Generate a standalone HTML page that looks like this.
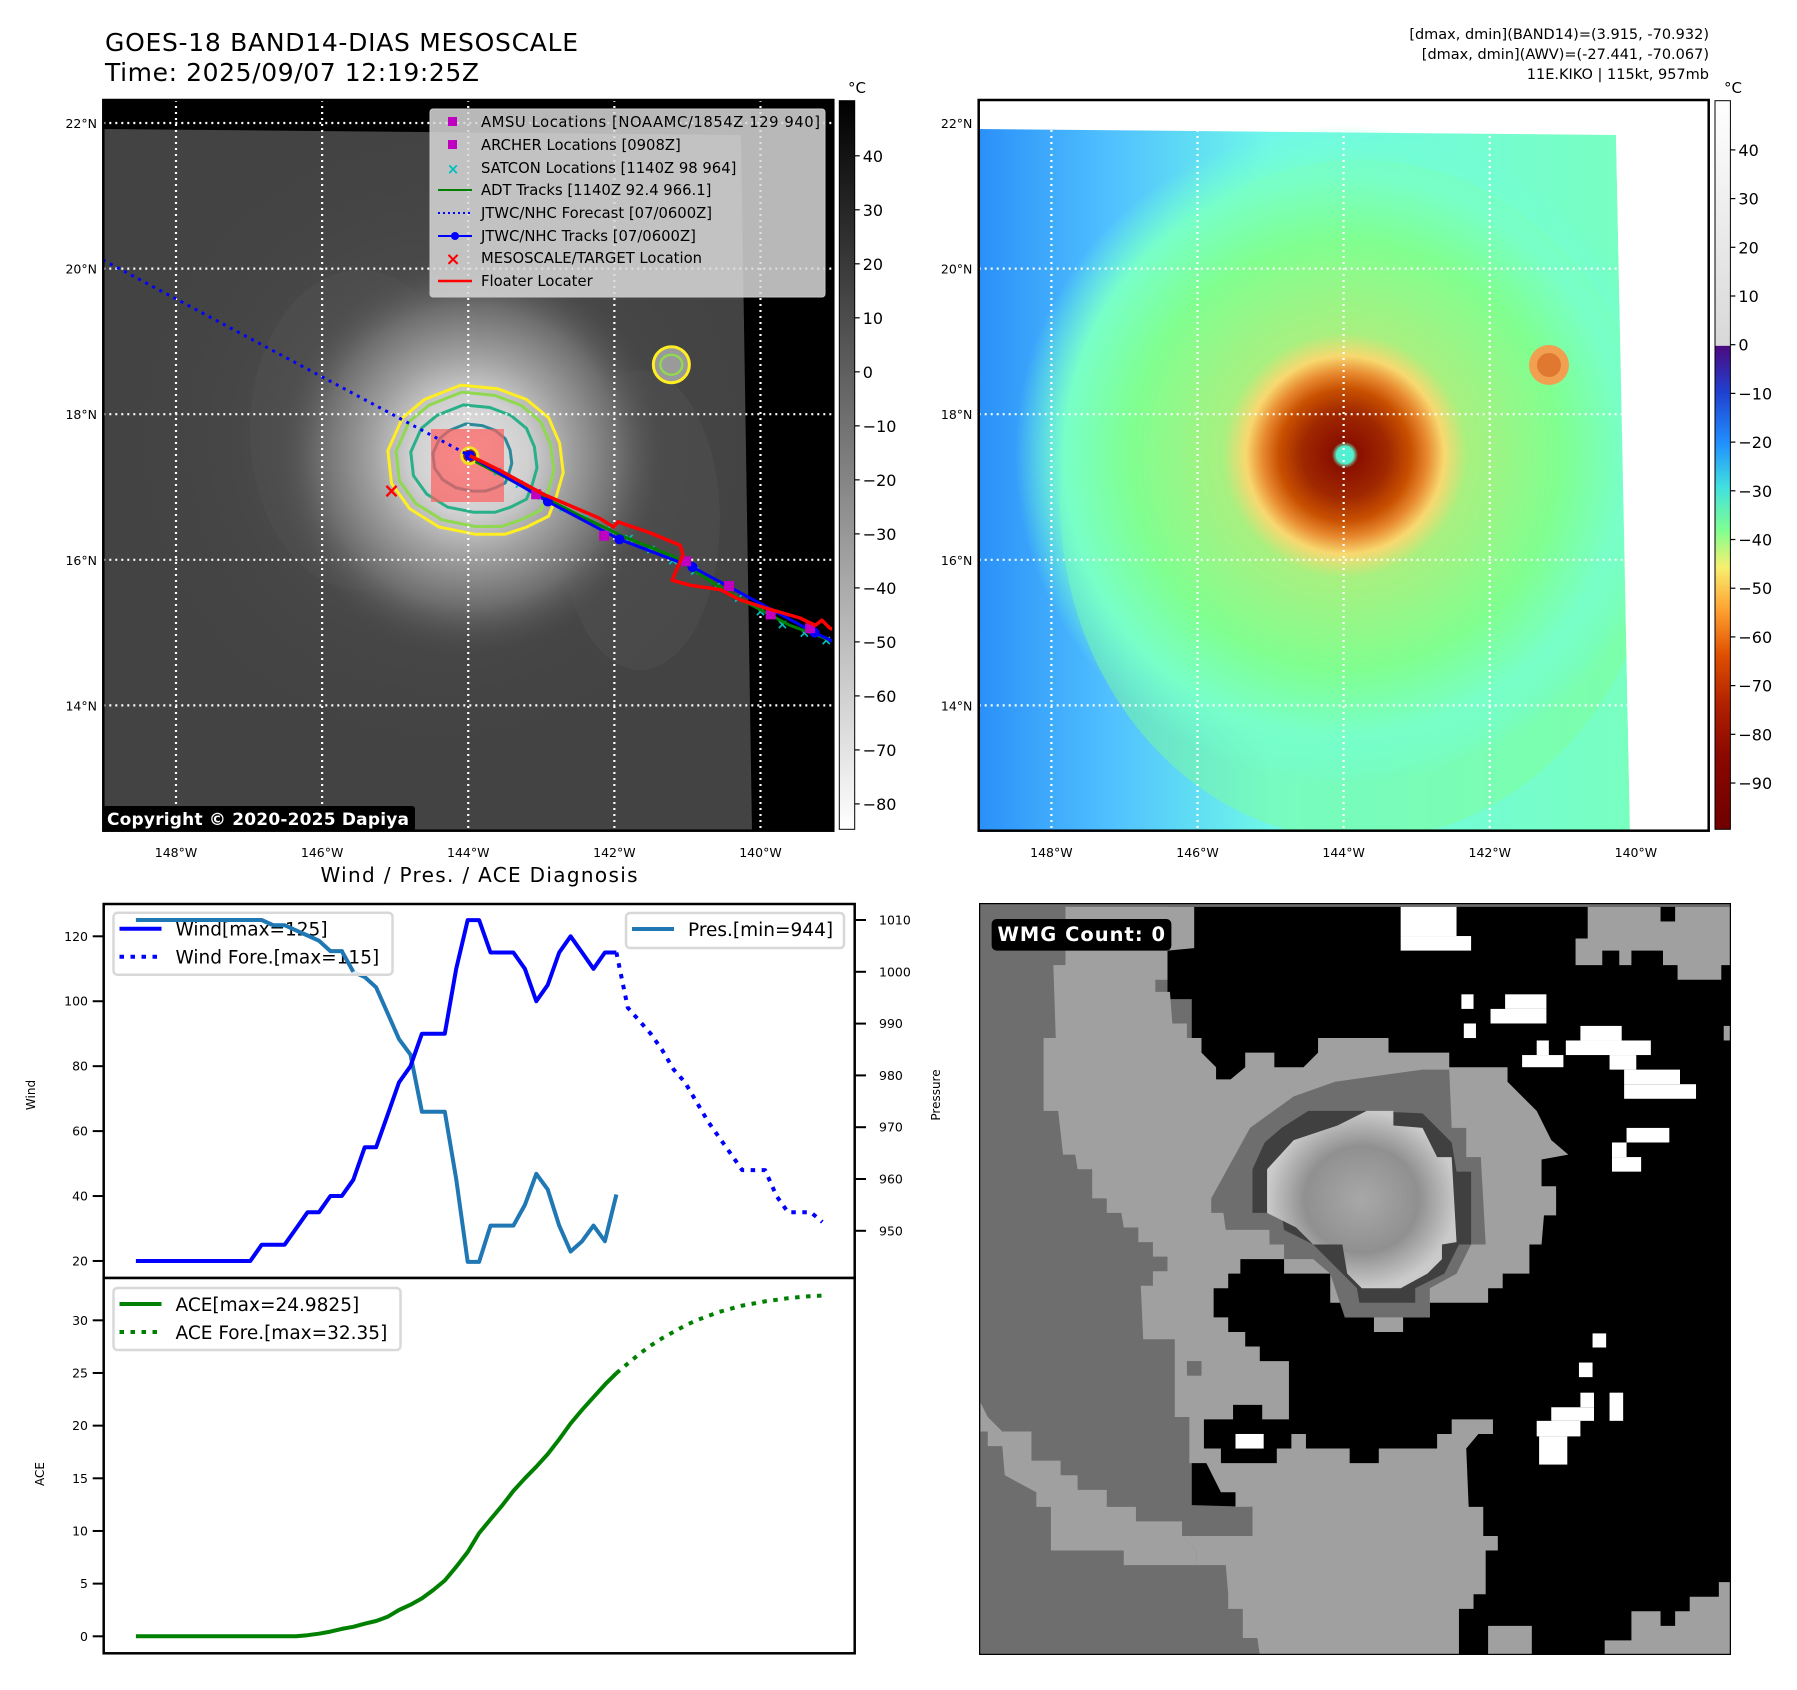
<!DOCTYPE html>
<html><head><meta charset="utf-8"><style>
html,body{margin:0;padding:0;background:#fff;}
svg{display:block;font-family:"DejaVu Sans","Liberation Sans",sans-serif;}
</style></head><body>
<svg id="root" width="1797" height="1690" viewBox="0 0 1797 1690" xmlns="http://www.w3.org/2000/svg">
<defs>
  <clipPath id="clipL"><rect x="103.3" y="100" width="730" height="730.7"/></clipPath>
  <clipPath id="clipR"><rect x="978.7" y="100" width="730" height="730.7"/></clipPath>
  <radialGradient id="stormGray" gradientUnits="userSpaceOnUse" cx="470" cy="456" r="200">
    <stop offset="0" stop-color="#e4e4e4"/><stop offset="0.3" stop-color="#cfcfcf"/>
    <stop offset="0.5" stop-color="#a0a0a0"/><stop offset="0.75" stop-color="#6e6e6e"/>
    <stop offset="1" stop-color="#4a4a4a" stop-opacity="0"/>
  </radialGradient>
  <radialGradient id="haloGray" gradientUnits="userSpaceOnUse" cx="440" cy="440" r="330">
    <stop offset="0" stop-color="#5e5e5e"/><stop offset="1" stop-color="#434343" stop-opacity="0"/>
  </radialGradient>
  <radialGradient id="stormColor" gradientUnits="userSpaceOnUse" cx="1345" cy="455" r="330">
    <stop offset="0" stop-color="#50f0d0"/><stop offset="0.025" stop-color="#60f0c0"/>
    <stop offset="0.04" stop-color="#8a1000"/><stop offset="0.13" stop-color="#a02800"/>
    <stop offset="0.2" stop-color="#c85000"/><stop offset="0.25" stop-color="#e88a30"/>
    <stop offset="0.3" stop-color="#f8d870"/><stop offset="0.37" stop-color="#a8f080"/>
    <stop offset="0.65" stop-color="#80ff90"/><stop offset="0.85" stop-color="#78ffc8"/>
    <stop offset="1" stop-color="#70ffd8" stop-opacity="0"/>
  </radialGradient>
  <linearGradient id="bgColor" x1="0" y1="0" x2="1" y2="0">
    <stop offset="0" stop-color="#2a90f8"/><stop offset="0.2" stop-color="#50c0ff"/><stop offset="0.45" stop-color="#70f8e8"/><stop offset="1" stop-color="#78ffc0"/>
  </linearGradient>
  <linearGradient id="cbGray" x1="0" y1="0" x2="0" y2="1">
    <stop offset="0" stop-color="#000"/><stop offset="1" stop-color="#fff"/>
  </linearGradient>
  <linearGradient id="cbColor" x1="0" y1="0" x2="0" y2="1">
    <stop offset="0" stop-color="#ffffff"/><stop offset="0.336" stop-color="#d8d8d8"/>
    <stop offset="0.337" stop-color="#4b0a80"/><stop offset="0.40" stop-color="#2040d0"/>
    <stop offset="0.47" stop-color="#2090ff"/><stop offset="0.53" stop-color="#40e0e0"/>
    <stop offset="0.59" stop-color="#80ff90"/><stop offset="0.64" stop-color="#f8f070"/>
    <stop offset="0.70" stop-color="#ffa030"/><stop offset="0.76" stop-color="#e05000"/>
    <stop offset="0.83" stop-color="#b02000"/><stop offset="0.90" stop-color="#8a0800"/>
    <stop offset="1" stop-color="#700000"/>
  </linearGradient>
  <radialGradient id="eyeGrad" gradientUnits="objectBoundingBox" cx="0.5" cy="0.5" r="0.5">
    <stop offset="0" stop-color="#a8a8a8"/><stop offset="0.6" stop-color="#909090"/><stop offset="1" stop-color="#cacaca"/>
  </radialGradient>
</defs>

<!-- Titles -->
<text x="105" y="51" font-size="25" textLength="473">GOES-18 BAND14-DIAS MESOSCALE</text>
<text x="105" y="81" font-size="25" textLength="374">Time: 2025/09/07 12:19:25Z</text>
<g font-size="14.5" text-anchor="end">
  <text x="1709" y="39">[dmax, dmin](BAND14)=(3.915, -70.932)</text>
  <text x="1709" y="59">[dmax, dmin](AWV)=(-27.441, -70.067)</text>
  <text x="1709" y="79">11E.KIKO | 115kt, 957mb</text>
</g>

<!-- LEFT MAP -->
<g>
  <rect x="103.3" y="100" width="730" height="730.7" fill="#000"/>
  <g clip-path="url(#clipL)">
    <polygon points="103.3,129 741,135 752,831 103.3,831" fill="#434343"/>
    <polygon points="103.3,129 741,135 752,831 103.3,831" fill="url(#haloGray)"/>
    <ellipse cx="360" cy="430" rx="110" ry="160" fill="#555" opacity="0.35"/>
    <ellipse cx="640" cy="520" rx="80" ry="150" fill="#555" opacity="0.35"/>
    <circle cx="470" cy="456" r="200" fill="url(#stormGray)"/>
    <circle cx="671" cy="365" r="18" fill="#9a9a9a"/>
  </g>
  <g id="leftOverlay" clip-path="url(#clipL)"></g>
  <rect x="103.3" y="100" width="730" height="730.7" fill="none" stroke="#000" stroke-width="2.5"/>
  <g id="legendTop"></g>
  <rect x="103" y="806" width="312" height="25" rx="3" fill="#000"/>
  <text x="107" y="825" font-size="17" font-weight="bold" fill="#fff" textLength="302">Copyright © 2020-2025 Dapiya</text>
  <rect x="839.3" y="100.7" width="15.4" height="728.6" fill="url(#cbGray)" stroke="#000" stroke-width="1"/>
  <text x="848" y="93" font-size="15">°C</text>
  <g id="cbLticks"></g>
</g>

<!-- RIGHT MAP -->
<g>
  <rect x="978.7" y="100" width="730" height="730.7" fill="#fff"/>
  <g clip-path="url(#clipR)">
    <polygon points="978.7,129 1616,135 1630,831 978.7,831" fill="url(#bgColor)"/>
    <ellipse cx="1360" cy="500" rx="300" ry="340" fill="#80ff90" opacity="0.45"/>
    <circle cx="1345" cy="455" r="330" fill="url(#stormColor)"/>
    <circle cx="1345" cy="455" r="9" fill="#50f0d0"/>
    <circle cx="1549" cy="365" r="20" fill="#f0a050"/>
    <circle cx="1549" cy="365" r="12" fill="#e07830"/>
    <polygon points="1616,135 1709,135 1709,831 1630,831" fill="#fff"/>
  </g>
  <g id="rightGrid" clip-path="url(#clipR)"></g>
  <rect x="978.7" y="100" width="730" height="730.7" fill="none" stroke="#000" stroke-width="2.5"/>
  <rect x="1715" y="100.7" width="15.4" height="728.6" fill="url(#cbColor)" stroke="#000" stroke-width="1"/>
  <text x="1724" y="93" font-size="15">°C</text>
  <g id="cbRticks"></g>
</g>

<!-- WIND / PRES / ACE -->
<text x="479" y="882" font-size="20" text-anchor="middle" textLength="317">Wind / Pres. / ACE Diagnosis</text>
<g id="windPanel">
  <rect x="103.7" y="904" width="751" height="374" fill="#fff" stroke="#000" stroke-width="2.5"/>
</g>
<g id="acePanel">
  <rect x="103.7" y="1278" width="751" height="375.3" fill="#fff" stroke="#000" stroke-width="2.5"/>
</g>
<text transform="translate(35,1095) rotate(-90)" font-size="12" text-anchor="middle">Wind</text>
<text transform="translate(940,1095) rotate(-90)" font-size="12" text-anchor="middle">Pressure</text>
<text transform="translate(44,1474) rotate(-90)" font-size="12" text-anchor="middle">ACE</text>
<g id="chartMarks"></g>
<g id="chartLegends"></g>

<!-- WMG -->
<svg x="979" y="903" width="752" height="752" viewBox="2 2 1548 1548" preserveAspectRatio="none">
  <rect x="0" y="0" width="1554" height="1554" fill="#6e6e6e"/>
  <polygon fill="#000" points="390,10 1550,10 1550,1550 580,1550 580,1300 440,1300 440,200 390,200"/>
  <polygon fill="#6e6e6e" points="390,1240 565,1245 565,1305 420,1305 450,1335 450,1365 510,1365 515,1425 545,1455 545,1515 575,1515 580,1550 390,1550"/>
  <polygon fill="#a0a0a0" points="180,10 445,10 445,95 390,100 390,160 365,160 365,185 395,185 400,250 430,250 430,280 460,280 460,310 490,340 490,365 520,365 550,340 550,310 610,310 610,340 670,340 700,310 700,280 845,280 845,310 970,310 970,340 1090,340 1090,370 1120,400 1150,430 1180,490 1215,520 1160,530 1160,585 1190,585 1190,645 1165,645 1160,705 1135,705 1135,765 1080,765 1080,795 1050,795 1050,825 930,825 930,855 875,855 875,885 815,885 815,855 755,855 755,825 725,825 725,765 630,765 630,735 540,735 540,765 515,765 515,795 485,795 485,855 515,855 515,885 550,885 550,915 580,915 580,945 640,945 640,1065 585,1065 585,1035 525,1035 525,1065 465,1065 465,1125 500,1125 500,1155 615,1155 615,1125 645,1125 645,1095 675,1095 675,1125 765,1125 765,1155 825,1155 825,1125 945,1125 945,1095 975,1095 975,1065 1060,1065 1060,1095 1030,1095 1005,1125 1010,1245 1040,1245 1040,1305 1070,1305 1070,1335 1045,1335 1045,1425 1020,1425 1020,1455 990,1455 990,1550 580,1550 575,1515 545,1515 545,1455 515,1455 515,1425 510,1365 450,1365 450,1335 420,1305 565,1305 565,1245 530,1245 530,1215 500,1215 470,1155 435,1155 435,1060 405,1060 405,900 340,900 335,790 360,790 360,760 390,760 390,730 360,730 360,700 330,700 330,670 300,670 295,640 265,640 265,610 235,610 235,550 205,550 200,520 175,520 165,430 135,430 135,280 160,280 155,130 180,130"/>
  <polygon fill="#a0a0a0" points="5,1030 20,1060 50,1090 110,1090 110,1150 170,1150 170,1180 205,1180 205,1210 265,1210 265,1245 325,1245 325,1275 420,1275 420,1305 450,1335 450,1365 300,1365 300,1335 150,1335 150,1245 120,1245 120,1215 55,1180 50,1120 20,1120 20,1090 5,1090"/>
  <polygon fill="#a0a0a0" points="1255,10 1550,10 1550,130 1530,130 1530,160 1440,160 1440,130 1410,130 1410,100 1345,100 1345,130 1320,130 1320,100 1285,100 1285,130 1230,130 1230,75 1255,75"/>
  <rect x="1405" y="10" width="30" height="30" fill="#000"/>
  <polygon fill="#a0a0a0" points="1525,1400 1550,1400 1550,1550 1290,1550 1290,1520 1345,1520 1345,1460 1405,1460 1405,1490 1435,1490 1435,1460 1465,1460 1465,1430 1525,1430"/>
  <polygon fill="#a0a0a0" points="1050,1490 1140,1490 1140,1550 1050,1550"/>
  <rect x="1535" y="255" width="15" height="30" fill="#a0a0a0"/>
  <rect x="430" y="945" width="30" height="30" fill="#6e6e6e"/>
  <polygon fill="#6e6e6e" points="480,610 560,465 650,400 735,370 915,345 970,345 975,465 1005,465 1005,525 1035,525 1045,705 1015,705 985,765 930,795 930,855 755,855 725,765 690,735 630,735 630,705 600,705 600,675 510,675 505,640 480,640"/>
  <polygon fill="#404040" points="565,550 590,495 625,465 680,430 795,430 915,435 945,465 975,495 985,555 1015,555 1015,705 990,705 960,765 900,795 900,825 785,825 780,795 750,765 720,735 690,705 630,675 625,640 565,640"/>
  <polygon fill="url(#eyeGrad)" points="595,550 650,490 740,460 800,430 855,430 855,460 915,465 945,525 975,525 985,700 955,705 955,735 925,765 870,795 790,795 760,765 750,705 690,705 655,670 595,640"/>
  <g fill="#fff">
    <rect x="870" y="10" width="115" height="60"/><rect x="870" y="70" width="145" height="30"/>
    <rect x="995" y="190" width="25" height="30"/><rect x="1085" y="190" width="85" height="30"/>
    <rect x="1055" y="220" width="115" height="30"/><rect x="1000" y="250" width="25" height="30"/>
    <rect x="1240" y="255" width="85" height="30"/><rect x="1210" y="285" width="175" height="30"/>
    <rect x="1150" y="285" width="25" height="30"/><rect x="1120" y="315" width="85" height="25"/>
    <rect x="1300" y="315" width="55" height="30"/><rect x="1330" y="345" width="115" height="30"/>
    <rect x="1330" y="375" width="148" height="30"/><rect x="1335" y="465" width="88" height="30"/>
    <rect x="1305" y="495" width="30" height="30"/><rect x="1305" y="525" width="60" height="30"/>
    <rect x="1265" y="888" width="28" height="29"/><rect x="1237" y="948" width="28" height="30"/>
    <rect x="1240" y="1010" width="28" height="30"/><rect x="1180" y="1040" width="88" height="28"/>
    <rect x="1300" y="1010" width="28" height="58"/><rect x="1150" y="1068" width="90" height="32"/>
    <rect x="1155" y="1100" width="58" height="58"/><rect x="530" y="1095" width="58" height="30"/>
  </g>
  <rect x="28" y="35" width="370" height="65" rx="10" fill="#000"/>
  <text x="40" y="80" font-size="40" font-weight="bold" fill="#fff" textLength="345">WMG Count: 0</text>
  <rect x="2" y="2" width="1548" height="1548" fill="none" stroke="#000" stroke-width="5"/>
</svg>

<script>
// ---------- chart data ----------
const windObs = [20,20,20,20,20,20,20,20,20,20,20,25,25,25,30,35,35,40,40,45,55,55,65,75,80,90,90,90,110,125,125,115,115,115,110,100,105,115,120,115,110,115,115];
const presObs = [1010,1010,1010,1010,1010,1010,1010,1010,1010,1010,1010,1010,1009,1009,1008,1007,1006,1004,1004,1000,999,997,992,987,984,973,973,973,960,944,944,951,951,951,955,961,958,951,946,948,951,948,957];
const windFore = [115,98,94,90,85,79,75,69,63,58,53,48,48,48,40,35,35,35,32];
const aceObs = [0,0,0,0,0,0,0,0,0,0,0,0,0,0,0,0.1,0.25,0.45,0.7,0.9,1.2,1.45,1.85,2.5,3.0,3.6,4.4,5.3,6.6,8.0,9.8,11.1,12.4,13.8,15.0,16.1,17.3,18.7,20.2,21.5,22.7,23.9,24.98];
const aceFore = [24.98,25.9,26.8,27.6,28.3,28.9,29.5,30.0,30.4,30.8,31.1,31.4,31.6,31.8,31.95,32.1,32.2,32.3,32.35];
const windTicks = [20,40,60,80,100,120];
const presTicks = [950,960,970,980,990,1000,1010];
const aceTicks = [0,5,10,15,20,25,30];
const legendWind = ["Wind[max=125]","Wind Fore.[max=115]"];
const legendPres = ["Pres.[min=944]"];
const legendAce = ["ACE[max=24.9825]","ACE Fore.[max=32.35]"];

// ---------- map data (lon, lat) ----------
const latLines = [22,20,18,16,14];
const lonLines = [-148,-146,-144,-142,-140];
const forecastLon = [-149.0,-146.5,-143.98];
const forecastLat = [20.12,18.78,17.43];
const jtwcLon = [-143.98,-142.91,-141.93,-140.93,-139.26,-138.9];
const jtwcLat = [17.43,16.80,16.28,15.90,15.0,14.83];
const floaterLon = [-143.98,-143.57,-142.95,-142.20,-142.01,-141.95,-141.51,-141.10,-141.06,-141.21,-140.96,-140.55,-140.28,-139.94,-139.46,-139.25,-139.16,-139.05,-138.91];
const floaterLat = [17.43,17.23,16.89,16.57,16.45,16.52,16.37,16.20,16.07,15.72,15.65,15.59,15.45,15.34,15.20,15.10,15.17,15.06,15.01];
const adtLon = [-143.9,-143.2,-142.5,-141.9,-141.2,-140.6,-140.2,-139.6,-139.0];
const adtLat = [17.35,16.98,16.62,16.33,16.05,15.65,15.42,15.1,14.88];
const satconLon = [-143.6,-143.3,-143.0,-142.7,-142.4,-142.1,-141.8,-141.5,-141.2,-140.9,-140.6,-140.3,-140.0,-139.7,-139.4,-139.1];
const satconLat = [17.22,17.05,16.88,16.72,16.58,16.42,16.3,16.15,16.0,15.85,15.65,15.48,15.3,15.12,15.0,14.9];
const amsuLon = [-143.07,-142.14,-141.02,-140.43,-139.86,-139.32];
const amsuLat = [16.9,16.33,15.98,15.64,15.25,15.06];
const yellowLon = [-144.9,-144.6,-144.1,-143.6,-143.2,-142.9,-142.75,-142.7,-142.8,-142.9,-143.2,-143.5,-143.9,-144.4,-144.8,-145.05,-145.1];
const yellowLat = [17.95,18.2,18.4,18.35,18.2,17.95,17.6,17.2,16.85,16.6,16.45,16.35,16.35,16.45,16.7,17.05,17.5];
const contourScale = [1.0,0.9,0.72,0.45];
const ir = {tickVals:[40,30,20,10,0,-10,-20,-30,-40,-50,-60,-70,-80], top:50.2, bottom:-84.7};
const awv = {tickVals:[40,30,20,10,0,-10,-20,-30,-40,-50,-60,-70,-80,-90], top:50.1, bottom:-99.5};

const NS = "http://www.w3.org/2000/svg";
function mk(tag, attrs, parent){const e=document.createElementNS(NS,tag);for(const k in attrs)e.setAttribute(k,attrs[k]);parent.appendChild(e);return e;}

const xIdx = i => 135.9 + i*11.44;
const yWind = v => 936.3 + (120 - v)*3.2467;
const yPres = p => 920 + (1010 - p)*5.18;
const yAce = a => 1636.3 - a*10.533;
const lonX = lon => 176 + (lon + 148)*73.06;
const latY = lat => 123 + (22 - lat)*72.8;
const OFF = 875.4;

const marks = document.getElementById('chartMarks');
function line(vals, start, yf, color, dash, name){
  const pts = vals.map((v,k)=>xIdx(start+k).toFixed(1)+','+yf(v).toFixed(1)).join(' ');
  const p = mk('polyline',{points:pts,fill:'none',stroke:color,'stroke-width':4,'stroke-linejoin':'round'},marks);
  if(dash) p.setAttribute('stroke-dasharray',dash);
  
  
}
line(presObs,0,yPres,'#1f77b4',null,'pressure-line');
line(windObs,0,yWind,'#0000ff',null,'wind-line');
line(windFore,windObs.length-1,yWind,'#0000ff','4.5 6.5','wind-forecast-line');
line(aceObs,0,yAce,'#008000',null,'ace-line');
line(aceFore,aceObs.length-1,yAce,'#008000','4.5 6.5','ace-forecast-line');

function ticksLeft(vals, yf, nm){
  vals.forEach(v=>{
    const y=yf(v);
    const t=mk('line',{x1:92.7,x2:103.7,y1:y,y2:y,stroke:'#000','stroke-width':2},marks);
    
    
    const tx=mk('text',{x:88,y:y+4.5,'font-size':12.5,'text-anchor':'end'},marks);
    tx.textContent=v;
    
    
  });
}
ticksLeft(windTicks,yWind,'wind');
ticksLeft(aceTicks,yAce,'ace');
presTicks.forEach(v=>{
  const y=yPres(v);
  const t=mk('line',{x1:854.7,x2:866,y1:y,y2:y,stroke:'#000','stroke-width':2},marks);
  
  
  const tx=mk('text',{x:879,y:y+4.5,'font-size':12.5},marks);
  tx.textContent=v;
  
  
});

const lg = document.getElementById('chartLegends');
function legendBox(x,y,w,h,items,name){
  const g=mk('g',{},lg);
  
  
  mk('rect',{x:x,y:y,width:w,height:h,rx:4,fill:'#fff','fill-opacity':0.85,stroke:'#d8d8d8','stroke-width':2.5},g);
  items.forEach((it,k)=>{
    const yy=y+16+k*28;
    const l=mk('line',{x1:x+6,x2:x+48,y1:yy,y2:yy,stroke:it.c,'stroke-width':4},g);
    if(it.d) l.setAttribute('stroke-dasharray',it.d);
    const t=mk('text',{x:x+62,y:yy+7,'font-size':18.5},g);
    t.textContent=it.t;
  });
}
legendBox(113.5,912.7,279,62,[{t:legendWind[0],c:'#0000ff'},{t:legendWind[1],c:'#0000ff',d:'4.5 6.5'}],'wind-legend');
legendBox(626,913,218,35,[{t:legendPres[0],c:'#1f77b4'}],'pressure-legend');
legendBox(113.5,1288,287,62,[{t:legendAce[0],c:'#008000'},{t:legendAce[1],c:'#008000',d:'4.5 6.5'}],'ace-legend');
(function(){const pts=presObs.slice(0,20).map((v,k)=>xIdx(k).toFixed(1)+','+yPres(v).toFixed(1)).join(' ');
 const p=mk('polyline',{points:pts,fill:'none',stroke:'#1f77b4','stroke-width':4},lg);
 
 })();

// ---------- maps ----------
const ov = document.getElementById('leftOverlay');
const rg = document.getElementById('rightGrid');
function grids(parent, off){
  latLines.forEach(lat=>{const l=mk('line',{x1:103.3+off,x2:833.3+off,y1:latY(lat),y2:latY(lat),stroke:'#fff','stroke-width':2.2,'stroke-dasharray':'2 4'},parent);
    
    });
  lonLines.forEach(lon=>{const l=mk('line',{x1:lonX(lon)+off,x2:lonX(lon)+off,y1:100,y2:831,stroke:'#fff','stroke-width':2.2,'stroke-dasharray':'2 4'},parent);
    
    });
}
const eyeLon=-143.98, eyeLat=17.43;
const cColors=['#ffee22','#90d850','#28b088','#2a8a9a'];
contourScale.forEach((s,ci)=>{
  const pts=yellowLon.map((lo,k)=>{const lon=eyeLon+(lo-eyeLon)*s, lat=eyeLat+(yellowLat[k]-eyeLat)*s;return lonX(lon).toFixed(1)+','+latY(lat).toFixed(1);}).join(' ');
  const p=mk('polygon',{points:pts,fill:'none',stroke:cColors[ci],'stroke-width':3},ov);
  
  
});
const cell=mk('ellipse',{cx:lonX(-141.22),cy:latY(18.68),rx:18,ry:18,fill:'none',stroke:'#ffee22','stroke-width':3},ov);


mk('ellipse',{cx:lonX(-141.22),cy:latY(18.68),rx:11,ry:10,fill:'none',stroke:'#90d850','stroke-width':2.5},ov);
const box=mk('rect',{x:431,y:429,width:73,height:73,fill:'#ff6060','fill-opacity':0.7},ov);


const eye=mk('circle',{cx:lonX(eyeLon),cy:latY(eyeLat),r:8,fill:'#902020',stroke:'#f0e020','stroke-width':3},ov);


grids(ov,0);
function poly(lons,lats,attrs,name){
  const pts=lons.map((lo,k)=>lonX(lo).toFixed(1)+','+latY(lats[k]).toFixed(1)).join(' ');
  const p=mk('polyline',Object.assign({points:pts,fill:'none'},attrs),ov);
  
  
}
poly(forecastLon,forecastLat,{stroke:'#0000ff','stroke-width':3,'stroke-dasharray':'3 5'},'forecast-track');
satconLon.forEach((lo,k)=>{const x=lonX(lo),y=latY(satconLat[k]);
  const t=mk('text',{x:x,y:y+5,'font-size':14,'font-weight':'bold',fill:'#00bfbf','text-anchor':'middle'},ov);t.textContent='×';
  
  });
poly(adtLon,adtLat,{stroke:'#008000','stroke-width':3},'adt-track');
poly(jtwcLon,jtwcLat,{stroke:'#0000ff','stroke-width':3},'jtwc-track');
jtwcLon.forEach((lo,k)=>{const c=mk('circle',{cx:lonX(lo),cy:latY(jtwcLat[k]),r:5,fill:'#0000ff'},ov);
  
  });
amsuLon.forEach((lo,k)=>{const r=mk('rect',{x:lonX(lo)-5,y:latY(amsuLat[k])-5,width:10,height:10,fill:'#c000c0'},ov);
  
  });
poly(floaterLon,floaterLat,{stroke:'#ff0000','stroke-width':3.5,'stroke-linejoin':'round'},'floater-track');
const mx=mk('text',{x:lonX(-145.05),y:latY(16.94)+6,'font-size':20,'font-weight':'bold',fill:'#ff0000','text-anchor':'middle'},ov);
mx.textContent='×';


grids(rg,OFF);

const root=document.getElementById('root');
[0,OFF].forEach(off=>{
  lonLines.forEach(lon=>{const t=mk('text',{x:lonX(lon)+off,y:857,'font-size':12.5,'text-anchor':'middle'},root);
    t.textContent=Math.abs(lon)+'°W';
    
    });
  latLines.forEach(lat=>{const t=mk('text',{x:97+off,y:latY(lat)+5,'font-size':12.5,'text-anchor':'end'},root);
    t.textContent=lat+'°N';
    
    });
});

function cbTicks(gid, spec, x0){
  const g=document.getElementById(gid);
  spec.tickVals.forEach(v=>{
    const y=100.7+(spec.top-v)/(spec.top-spec.bottom)*728.6;
    mk('line',{x1:x0,x2:x0+5,y1:y,y2:y,stroke:'#000','stroke-width':1.2},g);
    const t=mk('text',{x:x0+8,y:y+6,'font-size':16},g);
    t.textContent=(v<0?'\u2212'+Math.abs(v):v);
    
    
  });
}
cbTicks('cbLticks',ir,854.7);
cbTicks('cbRticks',awv,1730.4);

const lt=document.getElementById('legendTop');
mk('rect',{x:430,y:109,width:395,height:188,rx:3,fill:'#d8d8d8','fill-opacity':0.85,stroke:'#c8c8c8'},lt);
const legTexts=["AMSU Locations [NOAAMC/1854Z 129 940]","ARCHER Locations [0908Z]","SATCON Locations [1140Z 98 964]","ADT Tracks [1140Z 92.4 966.1]","JTWC/NHC Forecast [07/0600Z]","JTWC/NHC Tracks [07/0600Z]","MESOSCALE/TARGET Location","Floater Locater"];
const legY=[122,145,168,190,213,236,258,281];
legTexts.forEach((s,k)=>{
  const y=legY[k];
  const t=mk('text',{x:481,y:y+5,'font-size':14.8},lt);
  t.textContent=s;
  
  
  if(k===0) t.setAttribute('textLength','339');
});
mk('rect',{x:448,y:117,width:9,height:9,fill:'#c000c0'},lt);
mk('rect',{x:448,y:140,width:9,height:9,fill:'#c000c0'},lt);
(function(){const t=mk('text',{x:453,y:174,'font-size':15,'font-weight':'bold',fill:'#00bfbf','text-anchor':'middle'},lt);t.textContent='×';})();
mk('line',{x1:438,x2:472,y1:190,y2:190,stroke:'#008000','stroke-width':2},lt);
mk('line',{x1:438,x2:472,y1:213,y2:213,stroke:'#0000ff','stroke-width':2,'stroke-dasharray':'2 3'},lt);
mk('line',{x1:438,x2:472,y1:236,y2:236,stroke:'#0000ff','stroke-width':2},lt);
mk('circle',{cx:455,cy:236,r:4,fill:'#0000ff'},lt);
(function(){const t=mk('text',{x:453,y:265,'font-size':18,'font-weight':'bold',fill:'#ff0000','text-anchor':'middle'},lt);t.textContent='×';})();
mk('line',{x1:438,x2:472,y1:281,y2:281,stroke:'#ff0000','stroke-width':2.5},lt);
</script>
</svg>
</body></html>
